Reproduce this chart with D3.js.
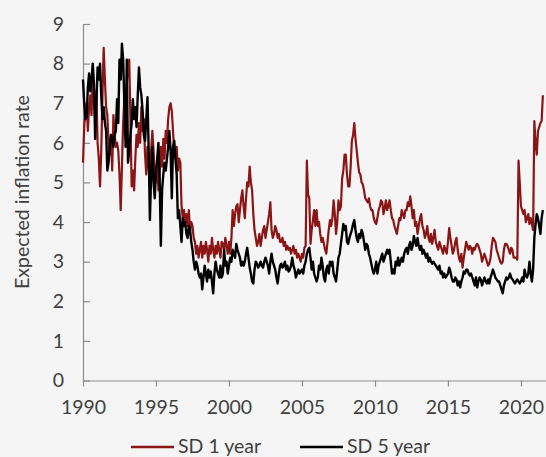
<!DOCTYPE html>
<html><head><meta charset="utf-8">
<script src="https://cdn.jsdelivr.net/npm/d3@7"></script>
<style>html,body{margin:0;padding:0;background:#f5f5f5;} svg{display:block}</style>
</head><body><svg id="c" width="546" height="457"></svg>
<script>
const startYear = 1990;
const seriesNames = ["SD 1 year", "SD 5 year"];
const seriesColors = ["#8b1414", "#000000"];
const sd1 = [
5.5,6.4,6.8,7.0,6.3,6.9,7.2,6.7,7.7,7.1,6.6,7.3,
6.0,5.6,4.9,5.8,7.2,8.4,7.6,6.9,6.7,6.0,5.7,6.2,
5.3,6.7,6.2,5.9,6.0,5.8,5.2,4.3,5.4,6.5,7.1,6.8,
7.5,7.9,8.1,6.6,4.9,5.3,4.8,5.6,6.2,5.9,6.5,6.0,
6.9,6.3,6.6,5.7,5.2,5.9,5.4,4.9,5.8,6.3,5.8,5.2,
5.0,5.5,4.8,5.3,5.9,5.4,6.1,5.6,6.3,6.0,6.6,6.9,
7.0,6.8,6.3,5.8,5.6,5.9,5.3,5.6,5.5,4.4,4.1,4.3,
4.0,4.2,3.9,4.3,3.8,4.0,3.9,3.6,3.5,3.2,3.4,3.1,
3.3,3.5,3.1,3.4,3.2,3.5,3.3,3.0,3.4,3.2,3.6,3.3,
3.1,3.4,3.2,3.5,3.3,3.1,3.5,3.45,3.3,3.6,3.4,3.2,
3.5,3.2,3.6,4.3,3.9,4.2,4.4,4.45,4.0,4.3,4.6,4.8,
4.4,4.1,4.6,5.0,4.9,5.4,5.0,4.8,4.2,3.8,3.6,3.4,
3.5,3.7,3.4,3.6,3.8,3.9,3.6,3.8,4.0,4.2,4.5,3.8,
3.6,3.7,3.9,3.8,3.6,3.7,3.5,3.5,3.6,3.4,3.5,3.3,
3.4,3.3,3.35,3.2,3.3,3.4,3.2,3.3,3.1,3.2,3.1,3.0,
3.2,3.1,3.35,3.4,5.55,4.7,4.6,3.45,3.8,4.05,4.3,3.9,
4.3,3.9,4.0,3.7,3.5,3.6,3.45,3.3,3.2,3.5,3.8,4.05,
3.9,4.1,4.55,4.2,3.7,4.0,4.55,4.3,4.4,5.1,5.3,5.7,
5.7,5.2,4.9,4.9,5.4,6.05,6.2,6.5,6.1,5.8,5.5,5.25,
5.2,5.0,4.95,4.8,4.6,4.55,4.5,4.6,4.4,4.3,4.3,4.1,
4.0,3.95,4.1,4.3,4.4,4.55,4.5,4.2,4.35,4.55,4.3,4.4,
4.55,4.3,4.1,4.05,3.9,3.8,3.7,3.9,4.1,4.05,4.3,4.2,
4.1,4.3,4.3,4.5,4.4,4.65,4.4,4.1,4.3,3.9,4.0,3.7,
3.9,4.1,4.2,3.9,3.8,3.6,3.7,3.9,3.6,3.5,3.7,3.45,
3.6,3.8,3.5,3.4,3.3,3.5,3.4,3.3,3.2,3.4,3.3,3.2,
3.5,3.85,3.6,3.4,3.2,3.3,3.5,3.6,3.3,3.1,3.0,3.2,
2.85,3.1,3.3,3.5,3.4,3.3,3.4,3.35,3.2,3.35,3.3,3.4,
3.45,3.4,3.3,3.2,3.0,3.1,3.2,3.1,3.0,2.9,2.95,3.1,
3.4,3.6,3.55,3.5,3.3,3.2,3.1,3.0,2.95,3.0,3.3,3.45,
3.45,3.4,3.3,3.2,3.35,3.3,3.1,3.1,3.1,3.05,5.55,5.0,
4.4,4.3,4.2,4.3,4.0,4.1,4.2,3.95,4.1,3.95,3.8,6.55,
6.0,5.7,6.3,6.4,6.5,6.55,7.2
];
const sd5 = [
7.6,7.0,6.6,6.65,7.4,7.75,7.3,7.6,8.0,7.5,6.1,7.0,
7.9,7.6,8.0,7.2,6.6,6.9,6.5,6.3,5.3,5.5,5.9,6.2,
6.1,5.9,6.2,6.3,7.1,6.5,8.1,7.6,8.5,8.1,7.0,5.9,
8.1,5.5,5.8,6.2,6.5,7.1,6.6,6.9,6.4,7.2,7.9,7.4,
7.2,6.8,6.2,6.05,6.6,7.15,5.8,4.05,5.2,5.9,5.0,4.6,
5.3,5.6,6.0,5.1,3.4,4.8,5.2,5.5,5.3,5.6,5.9,6.3,
5.8,4.6,5.9,6.05,5.6,5.2,4.1,4.3,3.9,3.5,4.1,3.9,
4.0,3.7,3.6,3.9,3.8,3.5,3.3,3.0,2.8,3.0,2.9,2.7,
2.6,2.7,2.3,2.6,2.9,2.7,2.5,2.8,2.6,2.75,2.5,2.2,
2.7,3.0,2.8,2.7,2.6,2.9,2.6,2.7,3.3,2.9,3.0,2.7,
2.9,3.1,3.0,3.3,3.2,3.1,3.45,3.3,3.2,3.1,2.9,3.0,
2.9,3.0,3.2,3.35,3.1,2.85,2.7,2.5,2.45,2.8,3.0,2.95,
2.85,2.9,3.0,2.9,2.85,3.0,3.1,3.0,2.9,2.7,3.0,3.2,
3.0,2.9,2.8,2.6,2.45,2.7,2.9,2.95,2.85,2.9,3.0,2.8,
2.9,2.75,2.8,2.9,3.1,2.9,2.8,2.6,2.7,2.8,2.7,2.75,
2.8,2.7,2.9,3.0,3.2,3.3,3.35,3.1,2.8,3.0,2.7,2.6,
2.5,2.6,2.9,2.8,3.1,2.9,2.6,2.5,2.8,2.9,2.7,3.0,
2.9,3.0,2.7,2.6,2.5,2.8,3.1,3.2,3.45,3.7,3.95,3.8,
3.9,3.5,3.45,3.6,3.7,3.8,3.95,4.05,3.8,3.6,3.5,3.7,
3.6,3.8,3.7,3.5,3.3,3.45,3.4,3.2,3.1,2.95,2.8,2.7,
2.8,3.0,2.7,2.9,3.0,3.1,3.2,3.0,3.1,3.2,3.3,3.2,
3.3,3.0,2.7,2.8,2.7,3.0,2.9,3.1,2.9,3.0,3.1,3.0,
3.2,3.3,3.35,3.2,3.4,3.5,3.3,3.4,3.65,3.5,3.4,3.6,
3.4,3.3,3.4,3.2,3.3,3.2,3.1,3.2,3.0,3.1,3.0,2.95,
3.0,2.95,2.9,2.85,2.8,2.9,2.7,2.75,2.6,2.7,2.6,2.65,
2.7,2.85,2.75,2.6,2.5,2.5,2.6,2.55,2.4,2.5,2.35,2.5,
2.6,2.75,2.7,2.8,2.8,2.7,2.65,2.7,2.6,2.5,2.4,2.6,
2.35,2.5,2.6,2.55,2.4,2.5,2.6,2.5,2.45,2.55,2.45,2.6,
2.7,2.8,2.7,2.6,2.55,2.5,2.5,2.4,2.3,2.2,2.4,2.5,
2.6,2.55,2.6,2.7,2.6,2.55,2.5,2.45,2.5,2.55,2.5,2.45,
2.5,2.6,2.5,2.8,2.65,2.6,2.7,3.0,2.7,2.5,2.8,3.6,
3.95,4.2,4.1,3.9,3.7,4.1,4.3
];
const xTicks = [1990, 1995, 2000, 2005, 2010, 2015, 2020];
const yTicks = [0, 1, 2, 3, 4, 5, 6, 7, 8, 9];
const yTitle = "Expected inflation rate";

const W = 546, H = 457;
const FONT = "Lato, 'Open Sans', sans-serif";
const svg = d3.select("#c");
svg.append("rect").attr("width", W).attr("height", H).attr("fill", "#f5f5f5");

const x = d3.scaleLinear().domain([1990, 2021.75]).range([83, 546.5]);
const y = d3.scaleLinear().domain([0, 9]).range([380.5, 24]);

// axes
const gy = svg.append("g").attr("transform", "translate(83,0)")
  .call(d3.axisLeft(y).tickValues(yTicks).tickFormat(d3.format("d"))
    .tickSizeInner(-7).tickSizeOuter(0).tickPadding(19));
const gx = svg.append("g").attr("transform", "translate(0,380.5)")
  .call(d3.axisBottom(x).tickValues(xTicks).tickFormat(d3.format("d"))
    .tickSizeInner(6).tickSizeOuter(0).tickPadding(14));
[gx, gy].forEach(g => {
  g.selectAll("path,line").attr("stroke", "#8c8c8c").attr("stroke-width", 1.2);
  g.selectAll("text").attr("fill", "#404040").style("font-family", FONT).style("font-size", "19.5px");
});

svg.append("text")
  .attr("transform", "translate(29,192) rotate(-90)")
  .attr("text-anchor", "middle")
  .style("font-family", FONT).style("font-size", "19.5px").attr("fill", "#404040")
  .text(yTitle);

// lines
const line = d3.line().x((d, i) => x(startYear + i / 12)).y(d => y(d));
[sd1, sd5].forEach((s, k) => {
  svg.append("path").datum(s)
    .attr("fill", "none").attr("stroke", seriesColors[k])
    .attr("stroke-width", k === 0 ? 2.2 : 2.4)
    .attr("stroke-linejoin", "round")
    .attr("d", line);
});

// legend
const legX = [131, 300];
seriesNames.forEach((n, k) => {
  svg.append("line").attr("x1", legX[k]).attr("x2", legX[k] + 43)
    .attr("y1", 447).attr("y2", 447)
    .attr("stroke", seriesColors[k]).attr("stroke-width", 2.4);
  svg.append("text").attr("x", legX[k] + 47).attr("y", 453)
    .style("font-family", FONT).style("font-size", "19.5px").attr("fill", "#404040")
    .text(n);
});
</script></body></html>
